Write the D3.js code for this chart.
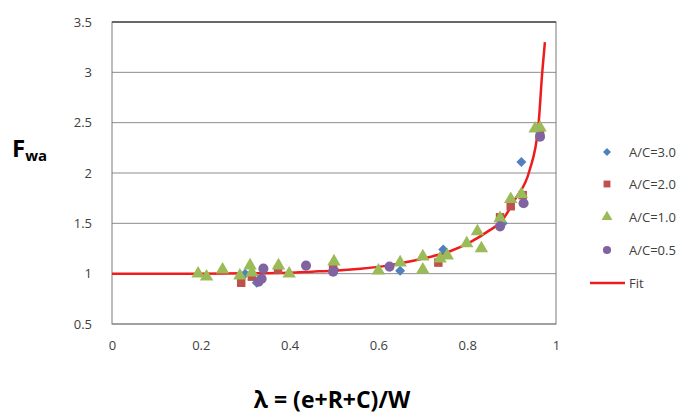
<!DOCTYPE html>
<html>
<head>
<meta charset="utf-8">
<script src="https://cdn.jsdelivr.net/npm/d3@7"></script>
<style>
  body { margin: 0; background: #fff; }
  text { font-family: "Open Sans", "Noto Sans", sans-serif; }
</style>
</head>
<body>
<svg id="chart" width="691" height="415"></svg>
<script>
// x and y ticks
const xTicks = [0, 0.2, 0.4, 0.6, 0.8, 1];
const yTicks = [0.5, 1, 1.5, 2, 2.5, 3, 3.5];

// A/C = 3.0 (blue diamonds)
const ac30Lambda = [0.30, 0.326, 0.50, 0.649, 0.746, 0.88, 0.922, 0.964];
const ac30F      = [1.00, 0.91, 1.05, 1.03, 1.24, 1.50, 2.11, 2.38];

// A/C = 2.0 (red squares)
const ac20Lambda = [0.291, 0.315, 0.374, 0.498, 0.735, 0.874, 0.898, 0.925, 0.964];
const ac20F      = [0.91, 0.97, 1.04, 1.07, 1.11, 1.56, 1.67, 1.78, 2.38];

// A/C = 1.0 (green triangles)
const ac10Lambda = [0.194, 0.213, 0.249, 0.288, 0.311, 0.315, 0.375, 0.399, 0.50, 0.60, 0.649,
                    0.70, 0.70, 0.739, 0.755, 0.799, 0.823, 0.832, 0.874, 0.898, 0.922, 0.953, 0.964];
const ac10F      = [1.00, 0.97, 1.04, 0.98, 1.08, 1.01, 1.08, 1.00, 1.12, 1.03, 1.11,
                    1.04, 1.17, 1.15, 1.18, 1.30, 1.42, 1.25, 1.55, 1.74, 1.79, 2.44, 2.45];

// A/C = 0.5 (purple circles)
const ac05Lambda = [0.33, 0.337, 0.341, 0.437, 0.498, 0.625, 0.874, 0.927, 0.964];
const ac05F      = [0.92, 0.95, 1.05, 1.08, 1.02, 1.07, 1.47, 1.70, 2.36];

// fit curve, points
const fitLambda = [0, 0.2, 0.3, 0.4, 0.45, 0.5, 0.56, 0.62, 0.67, 0.7, 0.76, 0.81, 0.85, 0.875,
                   0.908, 0.94, 0.96, 0.969, 0.975];
const fitF      = [1.0, 1.0, 1.003, 1.01, 1.02, 1.03, 1.05, 1.08, 1.12, 1.15, 1.22, 1.32, 1.43, 1.51,
                   1.74, 2.02, 2.45, 3.0, 3.3];

const legendLabels = ["A/C=3.0", "A/C=2.0", "A/C=1.0", "A/C=0.5", "Fit"];

// diamond = square turned 45 degrees (Excel style)
const series = [
  { name: legendLabels[0], xs: ac30Lambda, ys: ac30F, color: "#4f81bd", symbol: d3.symbolSquare, size: 50, rot: 45 },
  { name: legendLabels[1], xs: ac20Lambda, ys: ac20F, color: "#c0504d", symbol: d3.symbolSquare, size: 72, rot: 0 },
  { name: legendLabels[2], xs: ac10Lambda, ys: ac10F, color: "#9bbb59", symbol: d3.symbolTriangle, size: 78, rot: 0 },
  { name: legendLabels[3], xs: ac05Lambda, ys: ac05F, color: "#8064a2", symbol: d3.symbolCircle, size: 80, rot: 0 }
];

const svg = d3.select("#chart");

// plot area in pixels
const plotLeft = 112, plotRight = 556, plotTop = 22, plotBottom = 324;

const x = d3.scaleLinear().domain([0, 1]).range([plotLeft, plotRight]);
const y = d3.scaleLinear().domain([0.5, 3.5]).range([plotBottom, plotTop]);

// horizontal gridlines
svg.append("g")
  .selectAll("line")
  .data(yTicks)
  .enter()
  .append("line")
  .attr("x1", plotLeft)
  .attr("x2", plotRight)
  .attr("y1", d => y(d))
  .attr("y2", d => y(d))
  .attr("stroke", "#8c8c8c")
  .attr("stroke-width", 1);

// plot border
svg.append("rect")
  .attr("x", plotLeft)
  .attr("y", plotTop)
  .attr("width", plotRight - plotLeft)
  .attr("height", plotBottom - plotTop)
  .attr("fill", "none")
  .attr("stroke", "#7a7a7a")
  .attr("stroke-width", 1);
svg.append("line")
  .attr("x1", plotLeft).attr("x2", plotRight)
  .attr("y1", plotTop).attr("y2", plotTop)
  .attr("stroke", "#333")
  .attr("stroke-width", 1.2);

// axes (labels only, Excel style)
const xAxis = svg.append("g")
  .attr("transform", `translate(0, ${plotBottom})`)
  .call(d3.axisBottom(x).tickValues(xTicks).tickSize(0).tickPadding(17).tickFormat(d3.format("")));
const yAxis = svg.append("g")
  .attr("transform", `translate(${plotLeft}, 0)`)
  .call(d3.axisLeft(y).tickValues(yTicks).tickSize(0).tickPadding(20).tickFormat(d3.format("")));
[xAxis, yAxis].forEach(g => {
  g.select(".domain").remove();
  g.selectAll("text")
    .attr("fill", "#404040")
    .style("font-size", "13px")
    .style("font-family", "'Open Sans', sans-serif");
});

// fit line
const fitData = fitLambda.map((l, i) => [l, fitF[i]]);
svg.append("path")
  .datum(fitData)
  .attr("fill", "none")
  .attr("stroke", "#ee1c1c")
  .attr("stroke-width", 2.5)
  .attr("d", d3.line().x(d => x(d[0])).y(d => y(d[1])).curve(d3.curveMonotoneX));

// data points
series.forEach(s => {
  svg.append("g")
    .selectAll("path")
    .data(s.xs.map((l, i) => [l, s.ys[i]]))
    .enter()
    .append("path")
    .attr("transform", d => `translate(${x(d[0])}, ${y(d[1])}) rotate(${s.rot})`)
    .attr("d", d3.symbol().type(s.symbol).size(s.size))
    .attr("fill", s.color);
});

// legend
const legendY = [152, 184, 217, 250, 283];
const legend = svg.append("g");
series.forEach((s, i) => {
  legend.append("path")
    .attr("transform", `translate(607, ${legendY[i]}) rotate(${s.rot})`)
    .attr("d", d3.symbol().type(s.symbol).size(s.size * 0.65))
    .attr("fill", s.color);
});
legend.append("line")
  .attr("x1", 590).attr("x2", 625)
  .attr("y1", legendY[4]).attr("y2", legendY[4])
  .attr("stroke", "#ee1c1c")
  .attr("stroke-width", 2.5);
legend.selectAll("text")
  .data(legendLabels)
  .enter()
  .append("text")
  .attr("x", 629)
  .attr("y", (d, i) => legendY[i])
  .attr("dy", "0.35em")
  .attr("fill", "#404040")
  .style("font-size", "13px")
  .text(d => d);

// y axis title
const yt = svg.append("text")
  .attr("x", 12)
  .attr("y", 157)
  .attr("fill", "#000")
  .style("font-weight", "bold")
  .style("font-size", "24px");
yt.append("tspan").text("F");
yt.append("tspan").attr("dy", 4).style("font-size", "15px").text("wa");

// x axis title
svg.append("text")
  .attr("x", 332)
  .attr("y", 408)
  .attr("text-anchor", "middle")
  .attr("fill", "#000")
  .style("font-weight", "bold")
  .style("font-size", "23px")
  .text("λ = (e+R+C)/W");
</script>
</body>
</html>
